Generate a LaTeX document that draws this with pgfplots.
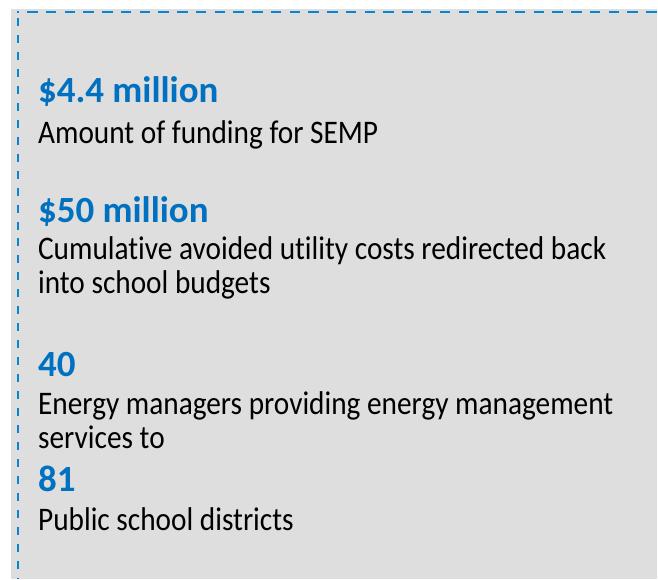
\documentclass[border=0pt]{standalone}
\usepackage{pgfplots}
\pgfplotsset{compat=1.18}
\usepackage{fontspec}
\setmainfont{Carlito}
\newfontfamily\bodyfont{Carlito}[FakeStretch=0.89, Ligatures=NoCommon]
\newfontfamily\headfont{Carlito}[Ligatures=NoCommon]
\definecolor{boxgray}{HTML}{DEDEDE}
\definecolor{dashblue}{HTML}{0A84D0}
\definecolor{txtblue}{HTML}{0070C0}
\begin{document}
\begin{tikzpicture}
\begin{axis}[
  width=658bp, height=580bp, scale only axis,
  xmin=0, xmax=658, ymin=0, ymax=580,
  hide axis, clip=false,
]
% invisible corners to fix the picture size
\addplot[draw=none, mark=none] coordinates {(0,0) (658,580)};
% gray panel
\addplot[draw=none, fill=boxgray] coordinates {(11,0) (658,0) (658,571) (11,571)} -- cycle;
% dashed border, top and left
\addplot[dashblue, line width=2.8bp, dash pattern=on 10.5bp off 8.3bp] coordinates {(658,568) (17,568)};
\addplot[dashblue, line width=2.4bp, dash pattern=on 8bp off 9bp] coordinates {(18,562) (18,0)};
\begin{scope}[
  every node/.style={anchor=base west, inner sep=0pt, font=\bodyfont\fontsize{33bp}{38bp}\selectfont},
  head/.style={text=txtblue, font=\headfont\bfseries\fontsize{37bp}{41bp}\selectfont}]
\node[head] at (axis cs:38,477.5) {\$4.4 million};
\node at (axis cs:38,436) {Amount of funding for SEMP};
\node[head] at (axis cs:38,357) {\$50 million};
\node at (axis cs:38,320) {Cumulative avoided utility costs redirected back};
\node at (axis cs:38,286) {into school budgets};
\node[head] at (axis cs:38,203) {40};
\node at (axis cs:38,165) {Energy managers providing energy management};
\node at (axis cs:38,131) {services to};
\node[head] at (axis cs:38,87) {81};
\node at (axis cs:38,48.5) {Public school districts};
\end{scope}
\end{axis}
\end{tikzpicture}
\end{document}
